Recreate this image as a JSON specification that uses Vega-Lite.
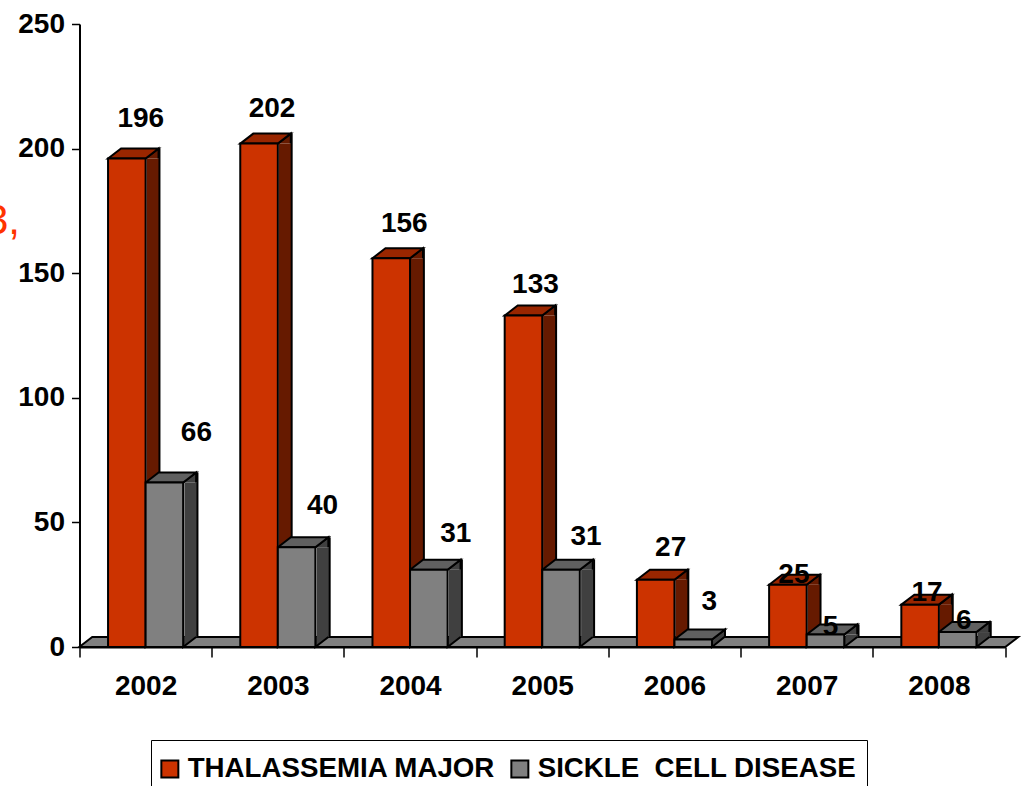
{
"$schema":"https://vega.github.io/schema/vega-lite/v6.json",
"width":925.5,"height":623,"autosize":"none","padding":{"left":79.5,"top":24,"right":18,"bottom":139},
"background":"white",
"config":{"view":{"stroke":null},"text":{"font":"Liberation Sans","fontWeight":"bold","fontSize":28,"color":"black"}},
"data":{"values":[
{"year":"2002","series":"THALASSEMIA MAJOR","value":196},{"year":"2003","series":"THALASSEMIA MAJOR","value":202},{"year":"2004","series":"THALASSEMIA MAJOR","value":156},{"year":"2005","series":"THALASSEMIA MAJOR","value":133},{"year":"2006","series":"THALASSEMIA MAJOR","value":27},{"year":"2007","series":"THALASSEMIA MAJOR","value":25},{"year":"2008","series":"THALASSEMIA MAJOR","value":17},
{"year":"2002","series":"SICKLE\u00a0 CELL DISEASE","value":66},{"year":"2003","series":"SICKLE\u00a0 CELL DISEASE","value":40},{"year":"2004","series":"SICKLE\u00a0 CELL DISEASE","value":31},{"year":"2005","series":"SICKLE\u00a0 CELL DISEASE","value":31},{"year":"2006","series":"SICKLE\u00a0 CELL DISEASE","value":3},{"year":"2007","series":"SICKLE\u00a0 CELL DISEASE","value":5},{"year":"2008","series":"SICKLE\u00a0 CELL DISEASE","value":6}
]},
"encoding":{
"x":{"field":"year","type":"nominal","scale":{"paddingInner":0,"paddingOuter":0},"axis":{"title":null,"labelAngle":0,"tickBand":"extent","tickSize":10,"tickWidth":1.5,"tickColor":"black","domainColor":"black","domainWidth":2,"labelFont":"Liberation Sans","labelFontWeight":"bold","labelFontSize":28,"labelColor":"black","labelPadding":15}},
"xOffset":{"field":"series","type":"nominal","sort":null,"scale":{"domain":["THALASSEMIA MAJOR","SICKLE\u00a0 CELL DISEASE"],"paddingInner":0,"paddingOuter":0.76}},
"y":{"field":"value","type":"quantitative","scale":{"domain":[0,250],"nice":false},"axis":{"values":[0,50,100,150,200,250],"grid":false,"tickSize":8,"tickWidth":1.5,"tickColor":"black","domainColor":"black","domainWidth":2,"labelFont":"Liberation Sans","labelFontWeight":"bold","labelFontSize":28,"labelColor":"black","labelPadding":7,"title":"3,","titleAngle":0,"titleX":-60,"titleY":209,"titleAlign":"right","titleBaseline":"alphabetic","titleFont":"Liberation Sans","titleFontSize":42,"titleFontWeight":"normal","titleColor":"#FF3300"}}
},
"layer":[
{"transform":[{"filter":"datum.year==='2005' && datum.series==='THALASSEMIA MAJOR'"}],"mark":{"type":"point","filled":true,"fill":"#808080","stroke":"black","strokeWidth":2,"opacity":1,"size":921600,"shape":"M -0.9646 0 L -0.9375 -0.0208 L 0.9917 -0.0208 L 0.9646 0 Z"},"encoding":{"x":{"datum":"2005"},"y":{"datum":0},"xOffset":null}},

{"transform":[{"filter":"datum.series==='THALASSEMIA MAJOR' && datum.value>=4"}],"mark":{"type":"bar","color":"#661A00","width":13,"xOffset":7.35},"encoding":{"xOffset":null,"y2":{"datum":4}}},
{"transform":[{"filter":"datum.series==='THALASSEMIA MAJOR' && datum.value>=4"}],"mark":{"type":"bar","color":"black","width":2,"xOffset":13.85,"yOffset":-10,"y2Offset":-10},"encoding":{"xOffset":null}},
{"transform":[{"filter":"datum.series==='THALASSEMIA MAJOR'"}],"mark":{"type":"point","filled":true,"fill":"#661A00","stroke":"black","strokeWidth":2,"opacity":1,"size":4096,"shape":"M 0.992 -0.3125 L 0.586 0 L 0.586 -0.3125"},"encoding":{"y":{"datum":0}}},
{"transform":[{"filter":"datum.series==='THALASSEMIA MAJOR'"}],"mark":{"type":"point","filled":true,"fill":"#661A00","stroke":"black","strokeWidth":2,"opacity":1,"size":4096,"shape":"M 0.586 0 L 0.992 -0.3125 L 0.992 0"}},
{"transform":[{"filter":"datum.series==='THALASSEMIA MAJOR'"}],"mark":{"type":"point","filled":true,"fill":"#992600","stroke":"black","strokeWidth":2,"opacity":1,"size":4096,"shape":"M -0.586 0 L -0.18 -0.3125 L 0.992 -0.3125 L 0.586 0 Z"}},

{"transform":[{"filter":"datum.series!=='THALASSEMIA MAJOR' && datum.value>=4"}],"mark":{"type":"bar","color":"#404040","width":13,"xOffset":45.35},"encoding":{"xOffset":null,"y2":{"datum":4}}},
{"transform":[{"filter":"datum.series!=='THALASSEMIA MAJOR' && datum.value>=4"}],"mark":{"type":"bar","color":"black","width":2,"xOffset":51.85,"yOffset":-10,"y2Offset":-10},"encoding":{"xOffset":null}},
{"transform":[{"filter":"datum.series!=='THALASSEMIA MAJOR' && datum.value>=4"}],"mark":{"type":"point","filled":true,"fill":"#404040","stroke":"black","strokeWidth":2,"opacity":1,"size":4096,"shape":"M 0.992 -0.3125 L 0.586 0 L 0.586 -0.3125"},"encoding":{"y":{"datum":0}}},
{"transform":[{"filter":"datum.series!=='THALASSEMIA MAJOR' && datum.value>=4"}],"mark":{"type":"point","filled":true,"fill":"#404040","stroke":"black","strokeWidth":2,"opacity":1,"size":4096,"shape":"M 0.586 0 L 0.992 -0.3125 L 0.992 0"}},
{"transform":[{"filter":"datum.series!=='THALASSEMIA MAJOR' && datum.value<4"}],"mark":{"type":"point","filled":true,"fill":"#404040","stroke":"black","strokeWidth":2,"opacity":1,"size":4096,"shape":"M 0.586 0 L 0.992 -0.3125 L 0.992 -0.094 L 0.586 0.234 Z"}},
{"transform":[{"filter":"datum.series!=='THALASSEMIA MAJOR'"}],"mark":{"type":"point","filled":true,"fill":"#606060","stroke":"black","strokeWidth":2,"opacity":1,"size":4096,"shape":"M -0.586 0 L -0.18 -0.3125 L 0.992 -0.3125 L 0.586 0 Z"}},

{"mark":{"type":"bar","stroke":"black","strokeWidth":2},"encoding":{"color":{"field":"series","type":"nominal","scale":{"domain":["THALASSEMIA MAJOR","SICKLE\u00a0 CELL DISEASE"],"range":["#CC3300","#808080"]},"legend":{"title":" ","titleFontSize":1,"titlePadding":4,"orient":"none","legendX":71.5,"legendY":716,"direction":"horizontal","symbolType":"square","symbolSize":289,"symbolStrokeColor":"black","symbolStrokeWidth":2,"symbolOpacity":1,"symbolOffset":-5,"labelFont":"Liberation Sans","labelFontWeight":"bold","labelFontSize":27.7,"labelColor":"black","labelLimit":0,"labelOffset":4,"columnPadding":11,"strokeColor":"black","fillColor":"white","padding":10}}}},

{"transform":[{"filter":"datum.year==='2002' && datum.series==='THALASSEMIA MAJOR'"}],"mark":{"type":"text","dx":14,"dy":-40},"encoding":{"text":{"field":"value"}}},
{"transform":[{"filter":"datum.year==='2003' && datum.series==='THALASSEMIA MAJOR'"}],"mark":{"type":"text","dx":13,"dy":-35},"encoding":{"text":{"field":"value"}}},
{"transform":[{"filter":"datum.year==='2004' && datum.series==='THALASSEMIA MAJOR'"}],"mark":{"type":"text","dx":13,"dy":-34},"encoding":{"text":{"field":"value"}}},
{"transform":[{"filter":"datum.year==='2005' && datum.series==='THALASSEMIA MAJOR'"}],"mark":{"type":"text","dx":12,"dy":-31},"encoding":{"text":{"field":"value"}}},
{"transform":[{"filter":"datum.year==='2006' && datum.series==='THALASSEMIA MAJOR'"}],"mark":{"type":"text","dx":15,"dy":-32},"encoding":{"text":{"field":"value"}}},
{"transform":[{"filter":"datum.year==='2007' && datum.series==='THALASSEMIA MAJOR'"}],"mark":{"type":"text","dx":6,"dy":-10},"encoding":{"text":{"field":"value"}}},
{"transform":[{"filter":"datum.year==='2008' && datum.series==='THALASSEMIA MAJOR'"}],"mark":{"type":"text","dx":7,"dy":-12},"encoding":{"text":{"field":"value"}}},
{"transform":[{"filter":"datum.year==='2002' && datum.series!=='THALASSEMIA MAJOR'"}],"mark":{"type":"text","dx":32,"dy":-50},"encoding":{"text":{"field":"value"}}},
{"transform":[{"filter":"datum.year==='2003' && datum.series!=='THALASSEMIA MAJOR'"}],"mark":{"type":"text","dx":26,"dy":-41},"encoding":{"text":{"field":"value"}}},
{"transform":[{"filter":"datum.year==='2004' && datum.series!=='THALASSEMIA MAJOR'"}],"mark":{"type":"text","dx":27,"dy":-36},"encoding":{"text":{"field":"value"}}},
{"transform":[{"filter":"datum.year==='2005' && datum.series!=='THALASSEMIA MAJOR'"}],"mark":{"type":"text","dx":25,"dy":-33},"encoding":{"text":{"field":"value"}}},
{"transform":[{"filter":"datum.year==='2006' && datum.series!=='THALASSEMIA MAJOR'"}],"mark":{"type":"text","dx":16,"dy":-38},"encoding":{"text":{"field":"value"}}},
{"transform":[{"filter":"datum.year==='2007' && datum.series!=='THALASSEMIA MAJOR'"}],"mark":{"type":"text","dx":5,"dy":-8},"encoding":{"text":{"field":"value"}}},
{"transform":[{"filter":"datum.year==='2008' && datum.series!=='THALASSEMIA MAJOR'"}],"mark":{"type":"text","dx":6,"dy":-11},"encoding":{"text":{"field":"value"}}}
]
}
